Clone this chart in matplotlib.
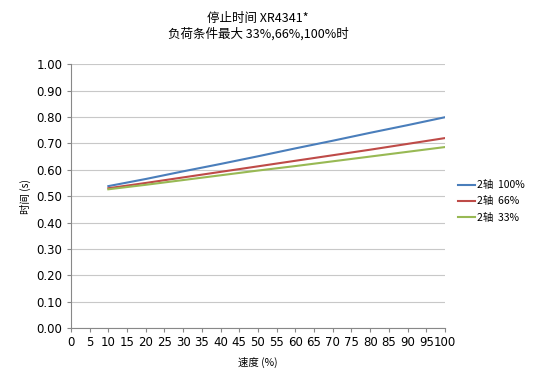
import matplotlib.pyplot as plt
import numpy as np

plt.rcParams['font.family'] = ['Noto Sans CJK SC', 'DejaVu Sans']

speed = [10, 20, 30, 40, 50, 60, 70, 80, 90, 100]
t_100 = [0.538, 0.565, 0.594, 0.622, 0.651, 0.681, 0.710, 0.740, 0.769, 0.799]
t_66 = [0.530, 0.550, 0.571, 0.592, 0.613, 0.634, 0.655, 0.676, 0.698, 0.720]
t_33 = [0.526, 0.543, 0.561, 0.579, 0.597, 0.614, 0.632, 0.650, 0.668, 0.686]
labels = ['2轴  100%', '2轴  66%', '2轴  33%']
colors = ['#4a7ebb', '#be4b48', '#98b954']

fig = plt.figure(figsize=(5.5, 3.82), dpi=100)
ax = fig.add_axes([0.129, 0.141, 0.68, 0.691])

for y, lab, c in zip([t_100, t_66, t_33], labels, colors):
    ax.plot(speed, y, color=c, lw=1.5, label=lab)

ax.set_xlim(0, 100)
ax.set_ylim(0, 1.0)
ax.set_xticks(np.arange(0, 101, 5))
ax.set_yticks(np.arange(0, 1.01, 0.1))
ax.set_yticklabels(['%.2f' % v for v in np.arange(0, 1.01, 0.1)], family='DejaVu Sans')
ax.set_xticklabels([str(v) for v in range(0, 101, 5)], family='DejaVu Sans')
ax.tick_params(labelsize=8.5, length=3, color='#888888', pad=3)
ax.grid(axis='y', color='#c8c8c8', lw=0.8)
ax.set_axisbelow(True)
for s in ['top', 'right']:
    ax.spines[s].set_visible(False)
for s in ['left', 'bottom']:
    ax.spines[s].set_color('#888888')
    ax.spines[s].set_linewidth(0.8)

ax.set_xlabel('速度 (%)', fontsize=7.5, labelpad=5)
ax.set_ylabel('时间 (s)', fontsize=7.5, labelpad=4)
ax.set_title('停止时间 XR4341*\n负荷条件最大 33%,66%,100%时', fontsize=9, pad=19, linespacing=1.25)

ax.legend(loc='center left', bbox_to_anchor=(1.01, 0.48), frameon=False, fontsize=7.5,
          handlelength=1.6, handletextpad=0.2, labelspacing=0.6)

fig.savefig('out.png', dpi=100)
